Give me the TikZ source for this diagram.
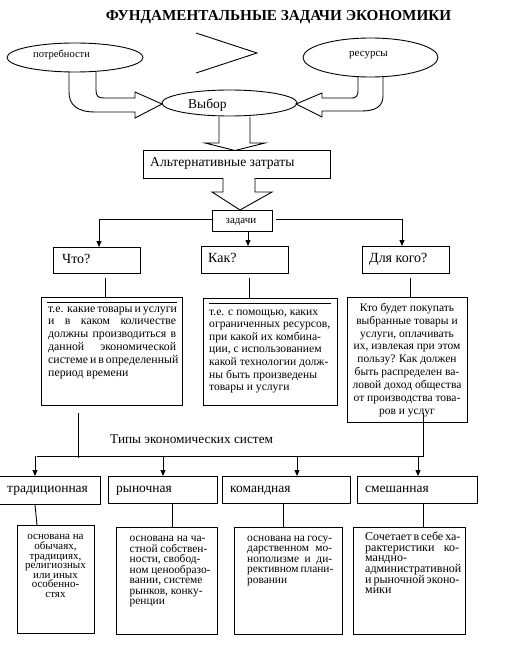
\documentclass[tikz,border=0pt]{standalone}
\usepackage{fontspec}
\setmainfont{Liberation Serif}
\usetikzlibrary{shapes.geometric,arrows.meta}
\newcommand\myfs[2]{\fontsize{#1}{#2}\selectfont\lineskiplimit=-20pt\relax}
\begin{document}
\begin{tikzpicture}[x=1pt,y=-1pt,
  box/.style={draw,line width=0.9pt,inner sep=0pt,anchor=north west},
  ell/.style={draw,ellipse,line width=0.9pt,inner sep=0pt},
  lbl/.style={inner sep=0pt,anchor=base west},
  body/.style={inner sep=0pt,anchor=north west,align=left},
  con/.style={line width=0.9pt},
  arr/.style={line width=0.9pt,-{Triangle[length=6pt,width=5pt]}},
  blk/.style={line width=0.9pt,draw,fill=white,line join=miter}]
\useasboundingbox[fill=white] (0,0) rectangle (509,647);

% title
\node[inner sep=0pt,anchor=base,font=\myfs{15.2}{17}\bfseries] (title) at (278.5,20.5) {ФУНДАМЕНТАЛЬНЫЕ ЗАДАЧИ ЭКОНОМИКИ};

% ellipses
\node[ell,minimum width=136pt,minimum height=29pt] (need) at (75,57.5) {};
\node[lbl,font=\myfs{10.5}{12}] (needT) at (33,57.5) {потребности};
\node[ell,minimum width=135pt,minimum height=39pt] (res) at (370.5,57.5) {};
\node[lbl,font=\myfs{11}{12}] (resT) at (349,57) {ресурсы};
\node[ell,minimum width=135pt,minimum height=26pt] (choice) at (229.5,103) {};
\node[lbl,font=\myfs{13.5}{15}] (choiceT) at (188,109) {Выбор};

% greater-than sign
\draw[con] (196,33) -- (257,53) -- (196,73);

% curved block arrows
\draw[con,line join=miter] (96,72) -- (96,90) .. controls (96,96) and (98,98) .. (104,98) -- (135,98) -- (135,92)
  -- (162,104) -- (135,118) -- (135,112) -- (95,112) .. controls (76,112) and (69,104) .. (69,92) -- (69,72);
\draw[con,line join=miter] (358,77) -- (358,91) .. controls (358,96) and (356,98) .. (352,98) -- (322,98) -- (322,93)
  -- (296,104) -- (322,117) -- (322,111) -- (362,111) .. controls (376,111) and (383,106) .. (383,96) -- (383,77);

% first down block arrow
\draw[blk] (219,117) -- (219,143) -- (205,143) -- (235,150.5) -- (265,143) -- (250,143) -- (250,117);

% alternative costs box
\node[box,minimum width=187pt,minimum height=27.5pt] (alt) at (143,150.5) {};
\node[lbl,font=\myfs{13.6}{15}] (altT) at (150,166.5) {Альтернативные затраты};

% second down block arrow
\draw[blk] (223,178) -- (223,192) -- (212,192) -- (240,210) -- (272,192) -- (255,192) -- (255,178);

% tasks box
\node[box,minimum width=60pt,minimum height=21pt] (zad) at (212,210) {};
\node[inner sep=0pt,anchor=base,font=\myfs{11}{12}] (zadT) at (241,223.5) {задачи};

% question boxes
\node[box,minimum width=87pt,minimum height=26pt] (what) at (53,247) {};
\node[lbl,font=\myfs{14}{15}] (whatT) at (62,263.5) {Что?};
\node[box,minimum width=87pt,minimum height=27pt] (how) at (201,246) {};
\node[lbl,font=\myfs{14}{15}] (howT) at (208,262.5) {Как?};
\node[box,minimum width=87pt,minimum height=27pt] (whom) at (362,246) {};
\node[lbl,font=\myfs{14}{15}] (whomT) at (369,262.5) {Для кого?};

\coordinate (l1) at (99,219);
\coordinate (r1) at (402,219);
\coordinate (m1) at (248,0);
\draw[con] (zad.west |- l1) -- (l1);
\draw[arr] (l1) -- (l1 |- what.north);
\draw[con] ([xshift=3pt]zad.east |- r1) -- (r1);
\draw[arr] (r1) -- (r1 |- whom.north);
\draw[arr] (zad.south -| m1) -- (how.north -| m1);

% answer boxes
\node[box,minimum width=141pt,minimum height=108pt] (whatB) at (41,297) {};
\draw[con] (47,302) -- (177,302);
\node[body,font=\myfs{11.8}{12.8}] (whatBT) at (48,303) {\strut\makebox[128pt][s]{т.е. какие товары и услуги}\\
  \makebox[128pt][s]{и в каком количестве}\\
  \makebox[128pt][s]{должны производиться в}\\
  \makebox[128pt][s]{данной экономической}\\
  \makebox[128pt][s]{системе и в определенный}\\
  период времени};

\node[box,minimum width=134pt,minimum height=107pt] (howB) at (203,298) {};
\draw[con] (209,303) -- (331,303);
\node[body,font=\myfs{11.6}{12.6}] (howBT) at (209,306) {\strut т.е. с помощью, каких\\
  ограниченных ресурсов,\\ при какой их комбина-\\ ции, с использованием\\
  какой технологии долж-\\ ны быть произведены\\ товары и услуги};

\node[box,minimum width=120pt,minimum height=125pt] (whomB) at (347,297) {};
\node[body,align=center,anchor=north,font=\myfs{11.5}{12.9}] (whomBT) at (407,302) {\strut Кто будет покупать\\
  выбранные товары и\\ услуги, оплачивать\\ их, извлекая при этом\\ пользу? Как должен\\
  быть распределен ва-\\ ловой доход общества\\ от производства това-\\ ров и услуг};

\coordinate (c105) at (105,0);
\coordinate (c249) at (249,0);
\coordinate (c410) at (410,0);
\draw[con] ([yshift=-4pt]what.south -| c105) -- (whatB.north -| c105);
\draw[con] ([yshift=-4pt]how.south -| c249) -- (howB.north -| c249);
\draw[con] ([yshift=-4pt]whom.south -| c410) -- (whomB.north -| c410);

% types of economic systems
\node[lbl,font=\myfs{13.3}{15}] (types) at (110,443.5) {Типы экономических систем};

\coordinate (jl) at (78,458);
\coordinate (bl) at (37,456);
\coordinate (br) at (423,456);
\draw[con] ([yshift=-7pt]whatB.south -| jl) -- (jl);
\draw[con] ([yshift=10pt]whomB.south -| br) -- (br) -- (bl);

% system boxes
\node[box,minimum width=102pt,minimum height=28pt] (trad) at (-2,476) {};
\node[lbl,font=\myfs{13.5}{15}] (tradT) at (7,492) {традиционная};
\node[box,minimum width=109pt,minimum height=27pt] (mark) at (108,476) {};
\node[lbl,font=\myfs{13.5}{15}] (markT) at (116,492) {рыночная};
\node[box,minimum width=128pt,minimum height=27pt] (comm) at (222,476) {};
\node[lbl,font=\myfs{13.5}{15}] (commT) at (230,492) {командная};
\node[box,minimum width=120pt,minimum height=27pt] (mix) at (357,476) {};
\node[lbl,font=\myfs{13.5}{15}] (mixT) at (365,492) {смешанная};

\coordinate (a1) at (35,0);
\coordinate (a1b) at (37,0);
\coordinate (a2) at (163,0);
\coordinate (a3) at (297,0);
\coordinate (a4) at (418,0);
\draw[arr] (bl -| a1) -- (trad.north -| a1);
\draw[arr] (bl -| a2) -- (mark.north -| a2);
\draw[arr] (bl -| a3) -- (comm.north -| a3);
\draw[arr] (bl -| a4) -- (mix.north -| a4);

% description boxes
\node[box,minimum width=77pt,minimum height=108pt] (tradB) at (17,525) {};
\node[body,align=center,anchor=north,font=\myfs{11}{9.6}] (tradBT) at (55.5,533) {\strut основана на\\ обычаях,\\ традициях,\\ религиозных\\ или иных\\ особенно-\\ стях};
\node[box,minimum width=101pt,minimum height=107pt] (markB) at (116,527) {};
\node[body,font=\myfs{11.4}{10.5}] (markBT) at (129.5,534) {\strut основана на ча-\\ стной собствен-\\ ности, свобод-\\ ном ценообразо-\\ вании, системе\\ рынков, конку-\\ ренции};
\node[box,minimum width=108pt,minimum height=107pt] (commB) at (234,527) {};
\node[body,font=\myfs{11.4}{10.4}] (commBT) at (247,534) {\strut\makebox[85pt][s]{основана на госу-}\\
  \makebox[85pt][s]{дарственном мо-}\\ \makebox[85pt][s]{нополизме и ди-}\\
  \makebox[85pt][s]{рективном плани-}\\ ровании};
\node[box,minimum width=112pt,minimum height=107pt] (mixB) at (353,527) {};
\node[body,font=\myfs{12}{10.6}] (mixBT) at (365,532) {\strut\makebox[94pt][s]{Сочетает в себе ха-}\\
  \makebox[94pt][s]{рактеристики ко-}\\ мандно-\\ административной\\
  \makebox[94pt][s]{и рыночной эконо-}\\ мики};

\draw[con] (trad.south -| a1) -- (tradB.north -| a1b);
\coordinate (d2) at (172,0);
\coordinate (d3) at (283,0);
\coordinate (d4) at (423,0);
\draw[con] (mark.south -| d2) -- (markB.north -| d2);
\draw[con] (comm.south -| d3) -- (commB.north -| d3);
\draw[con] (mix.south -| d4) -- (mixB.north -| d4);
\end{tikzpicture}
\end{document}
